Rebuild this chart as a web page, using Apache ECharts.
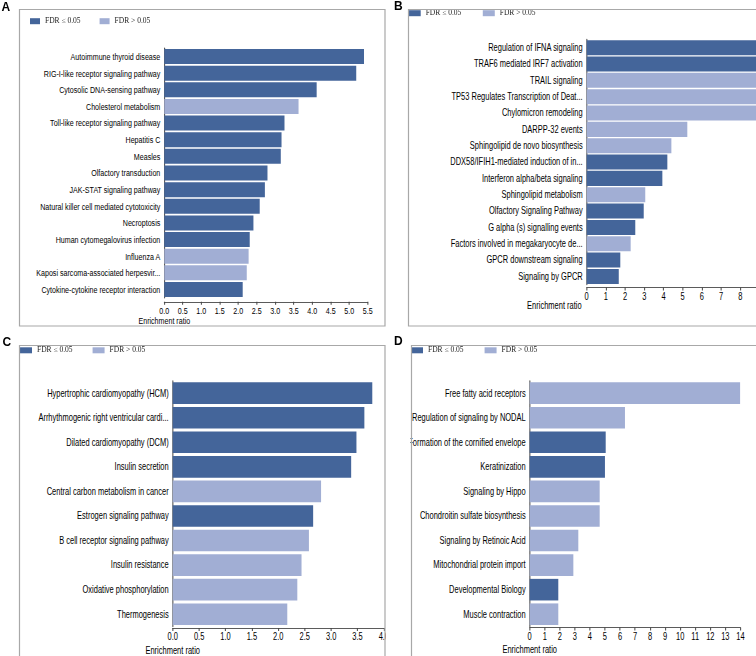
<!DOCTYPE html>
<html><head><meta charset="utf-8">
<script src="https://cdn.jsdelivr.net/npm/echarts@6/dist/echarts.min.js"></script>
<style>
html,body{margin:0;padding:0;background:#fff;overflow:hidden;width:756px;height:656px}
#plot{position:absolute;left:0;top:0;width:1100px;height:656px;transform:scaleX(0.75);transform-origin:0 0}
#over{position:absolute;left:0;top:0;width:756px;height:656px;pointer-events:none}
</style>
</head><body><div id="plot"></div><div id="over"></div>
<script>
// ---------- DATA ----------
const catsA = ['Autoimmune thyroid disease','RIG-I-like receptor signaling pathway','Cytosolic DNA-sensing pathway','Cholesterol metabolism','Toll-like receptor signaling pathway','Hepatitis C','Measles','Olfactory transduction','JAK-STAT signaling pathway','Natural killer cell mediated cytotoxicity','Necroptosis','Human cytomegalovirus infection','Influenza A','Kaposi sarcoma-associated herpesvir...','Cytokine-cytokine receptor interaction'];
const valsA = [5.40,5.19,4.12,3.63,3.25,3.17,3.15,2.79,2.72,2.58,2.41,2.31,2.28,2.23,2.12];
const sigA  = [1,1,1,0,1,1,1,1,1,1,1,1,0,0,1];

const catsB = ['Regulation of IFNA signaling','TRAF6 mediated IRF7 activation','TRAIL signaling','TP53 Regulates Transcription of Deat...','Chylomicron remodeling','DARPP-32 events','Sphingolipid de novo biosynthesis','DDX58/IFIH1-mediated induction of in...','Interferon alpha/beta signaling','Sphingolipid metabolism','Olfactory Signaling Pathway','G alpha (s) signalling events','Factors involved in megakaryocyte de...','GPCR downstream signaling','Signaling by GPCR'];
const valsB = [11.9,11.9,10.7,10.7,9.5,5.24,4.41,4.20,3.94,3.05,2.97,2.53,2.29,1.75,1.67];
const sigB  = [1,1,0,0,0,0,0,1,1,0,1,1,0,1,1];

const catsC = ['Hypertrophic cardiomyopathy (HCM)','Arrhythmogenic right ventricular cardi...','Dilated cardiomyopathy (DCM)','Insulin secretion','Central carbon metabolism in cancer','Estrogen signaling pathway','B cell receptor signaling pathway','Insulin resistance','Oxidative phosphorylation','Thermogenesis'];
const valsC = [3.78,3.63,3.48,3.38,2.81,2.66,2.58,2.44,2.36,2.17];
const sigC  = [1,1,1,1,0,1,0,0,0,0];

const catsD = ['Free fatty acid receptors','Regulation of signaling by NODAL','Formation of the cornified envelope','Keratinization','Signaling by Hippo','Chondroitin sulfate biosynthesis','Signaling by Retinoic Acid','Mitochondrial protein import','Developmental Biology','Muscle contraction'];
const valsD = [13.98,6.33,5.05,5.00,4.65,4.65,3.23,2.90,1.90,1.90];
const sigD  = [0,0,1,1,0,0,0,0,1,0];

const legendNames = ['FDR \u2264 0.05','FDR > 0.05'];
const axisTitle = 'Enrichment ratio';
const panelLetters = ['A','B','C','D'];

// ---------- STYLE ----------
const DARK = '#44659a', LIGHT = '#a1aed4';
const SX = 0.75;               // horizontal condensing of the plot text (matches narrow face)
const LF = "'Liberation Sans',Arial,Helvetica,sans-serif";
const SERIF = "'Liberation Serif','Times New Roman',serif";
const FRAME = '#a8a8a8';
const X = v => v / SX;         // convert screen x to pre-scale x

const panels = [
  {cats:catsA, vals:valsA, sig:sigA, grid:{left:X(164.3), top:48.2, width:X(203.4), height:249.6}, max:5.5, interval:0.5, dec:1, offset:4, gap:'10%',
   fs:9.5, namePad:14, legend:{left:30, top:17.2, itemWidth:10, itemGap:19}},
  {cats:catsB, vals:valsB, sig:sigB, grid:{left:X(586.7), top:39.5, width:X(230.4), height:245.1}, max:12, interval:1, dec:0, offset:3, gap:'8%',
   fs:10, namePad:13.5, legend:{left:408.7, top:9.2, itemWidth:12, itemGap:21.5}},
  {cats:catsC, vals:valsC, sig:sigC, grid:{left:X(172.7), top:380.9, width:X(211.2), height:245.6}, max:4, interval:0.5, dec:1, offset:1.5, gap:'12%',
   fs:10, namePad:17.5, legend:{left:20, top:346.3, itemWidth:12, itemGap:20}},
  {cats:catsD, vals:valsD, sig:sigD, grid:{left:X(529.7), top:380.9, width:X(210.7), height:245.6}, max:14, interval:1, dec:0, offset:1, gap:'12%',
   fs:10, namePad:17.5, legend:{left:411, top:346.3, itemWidth:12, itemGap:21}}
];

// ---------- PLOT (horizontally condensed) ----------
const option = {animation:false, backgroundColor:'#fff', grid:[], xAxis:[], yAxis:[], series:[]};
panels.forEach((p, i) => {
  option.grid.push(Object.assign({containLabel:false}, p.grid));
  option.xAxis.push({
    type:'value', gridIndex:i, min:0, max:p.max, interval:p.interval, offset:p.offset,
    splitLine:{show:false},
    axisLine:{show:true, lineStyle:{color:'#444', width:1}},
    axisTick:{show:true, length:3, lineStyle:{color:'#444', width:1.33}},
    axisLabel:{fontFamily:LF, fontSize:p.fs, color:'#000', margin:4, formatter:v => v.toFixed(p.dec)},
    name:axisTitle, nameLocation:'start', nameGap:0,
    nameTextStyle:{fontFamily:LF, fontSize:p.fs, color:'#000', align:'center', verticalAlign:'top', padding:[p.namePad,0,0,0]}
  });
  option.yAxis.push({
    type:'category', gridIndex:i, data:p.cats, inverse:true,
    axisLine:{show:true, lineStyle:{color:'#444', width:1.33}},
    axisTick:{show:false},
    axisLabel:{fontFamily:LF, fontSize:p.fs, color:'#000', margin:X(4)}
  });
  option.series.push({
    type:'bar', name:legendNames[0], xAxisIndex:i, yAxisIndex:i, barCategoryGap:p.gap, barGap:'-100%',
    itemStyle:{color:DARK}, clip:true,
    data:p.vals.map((v,k) => p.sig[k] ? v : '-')
  });
  option.series.push({
    type:'bar', name:legendNames[1], xAxisIndex:i, yAxisIndex:i, barCategoryGap:p.gap, barGap:'-100%',
    itemStyle:{color:LIGHT}, clip:true,
    data:p.vals.map((v,k) => p.sig[k] ? '-' : v)
  });
});
const plot = echarts.init(document.getElementById('plot'), null, {renderer:'svg'});
plot.setOption(option);

// ---------- OVERLAY (legends, frames, panel letters) ----------
const over = {
  animation:false,
  grid:{left:-100, top:-100, width:10, height:10, show:false},
  xAxis:{type:'value', show:false}, yAxis:{type:'category', show:false, data:[]},
  series:[
    {type:'bar', name:legendNames[0], itemStyle:{color:DARK}, data:[]},
    {type:'bar', name:legendNames[1], itemStyle:{color:LIGHT}, data:[]}
  ],
  legend: panels.map(p => ({
    data:legendNames, left:p.legend.left, top:p.legend.top, orient:'horizontal', padding:0,
    icon:'rect', itemWidth:p.legend.itemWidth, itemHeight:6, itemGap:p.legend.itemGap,
    selectedMode:false,
    textStyle:{fontFamily:SERIF, fontSize:7.5, color:'#222'}
  })),
  graphic:[
    {type:'rect', z:100, shape:{x:386, y:330, width:24.5, height:330}, style:{fill:'#fff'}},
    {type:'rect', z:101, shape:{x:19.5, y:9.5, width:365.5, height:316.5}, style:{fill:'none', stroke:FRAME, lineWidth:1.2}},
    {type:'rect', z:101, shape:{x:408.5, y:9.5, width:400, height:316.5}, style:{fill:'none', stroke:FRAME, lineWidth:1.2}},
    {type:'rect', z:101, shape:{x:19.5, y:345.5, width:365.5, height:400}, style:{fill:'none', stroke:FRAME, lineWidth:1.2}},
    {type:'rect', z:101, shape:{x:411.5, y:345.5, width:400, height:400}, style:{fill:'none', stroke:FRAME, lineWidth:1.2}},
    {type:'text', z:102, x:1.5, y:2, style:{text:panelLetters[0], font:"bold 12px 'Liberation Sans',Arial,sans-serif", fill:'#000'}},
    {type:'text', z:102, x:394, y:1, style:{text:panelLetters[1], font:"bold 12px 'Liberation Sans',Arial,sans-serif", fill:'#000'}},
    {type:'text', z:102, x:2.5, y:337, style:{text:panelLetters[2], font:"bold 12px 'Liberation Sans',Arial,sans-serif", fill:'#000'}},
    {type:'text', z:102, x:394, y:335.5, style:{text:panelLetters[3], font:"bold 12px 'Liberation Sans',Arial,sans-serif", fill:'#000'}}
  ]
};
const overlay = echarts.init(document.getElementById('over'), null, {renderer:'canvas'});
overlay.setOption(over);
</script></body></html>
